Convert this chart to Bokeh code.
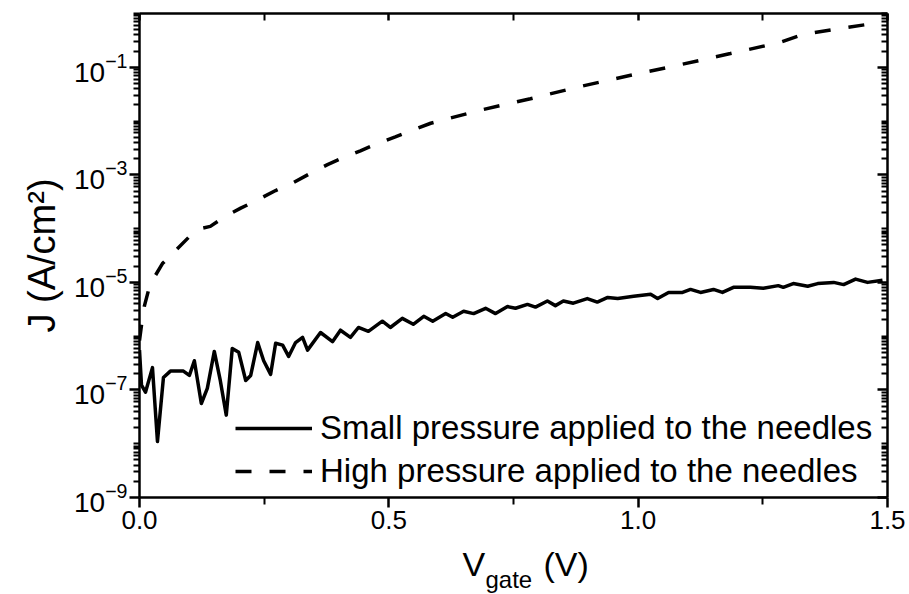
from bokeh.plotting import figure
from bokeh.layouts import column
from bokeh.models import (Range1d, FixedTicker, LogTickFormatter, LogAxis, LinearAxis,
                          PrintfTickFormatter, CustomJSTickFormatter, Legend, LegendItem)
from bokeh.core.properties import value
from bokeh.embed import file_html
from bokeh.resources import INLINE

# ---- data ----
v_small = [0.000, 0.004, 0.012, 0.026, 0.036, 0.048, 0.062, 0.088, 0.100, 0.110,
           0.124, 0.136, 0.150, 0.162, 0.174, 0.186, 0.199, 0.213, 0.223, 0.237,
           0.249, 0.263, 0.273, 0.287, 0.299, 0.313, 0.327, 0.337, 0.363, 0.387,
           0.403, 0.423, 0.439, 0.459, 0.487, 0.503, 0.527, 0.549, 0.570, 0.588,
           0.614, 0.628, 0.650, 0.670, 0.694, 0.714, 0.738, 0.754, 0.778, 0.794,
           0.818, 0.834, 0.850, 0.870, 0.898, 0.918, 0.939, 0.959, 0.991, 1.025,
           1.039, 1.061, 1.089, 1.105, 1.125, 1.151, 1.169, 1.191, 1.225, 1.251,
           1.281, 1.291, 1.311, 1.340, 1.360, 1.392, 1.412, 1.436, 1.460, 1.490]
j_small = [5.5e-7, 1.23e-7, 9.1e-8, 2.6e-7, 1.1e-8, 1.7e-7, 2.24e-7, 2.24e-7, 1.86e-7, 3.5e-7,
           5.6e-8, 1.07e-7, 5.2e-7, 1.5e-7, 3.4e-8, 5.9e-7, 5.0e-7, 1.5e-7, 1.86e-7, 7.6e-7,
           3.5e-7, 1.95e-7, 7.4e-7, 6.8e-7, 4.2e-7, 7.6e-7, 9.5e-7, 5.5e-7, 1.17e-6, 7.9e-7,
           1.29e-6, 9.5e-7, 1.45e-6, 1.23e-6, 1.9e-6, 1.45e-6, 2.14e-6, 1.66e-6, 2.34e-6, 1.9e-6,
           2.63e-6, 2.24e-6, 2.9e-6, 2.63e-6, 3.3e-6, 2.63e-6, 3.55e-6, 3.3e-6, 3.9e-6, 3.47e-6,
           4.5e-6, 3.7e-6, 4.5e-6, 4.1e-6, 5.0e-6, 4.3e-6, 5.25e-6, 5.0e-6, 5.5e-6, 6.0e-6,
           5.0e-6, 6.5e-6, 6.5e-6, 7.4e-6, 6.5e-6, 7.4e-6, 6.5e-6, 8.1e-6, 8.1e-6, 7.8e-6,
           8.7e-6, 8.1e-6, 9.5e-6, 8.5e-6, 9.5e-6, 1.0e-5, 9.1e-6, 1.15e-5, 1.0e-5, 1.1e-5]

v_high = [0.000, 0.004, 0.010, 0.018, 0.028, 0.046, 0.072, 0.102, 0.122, 0.142,
          0.172, 0.203, 0.239, 0.273, 0.309, 0.343, 0.377, 0.409, 0.443, 0.477,
          0.513, 0.547, 0.584, 0.684, 0.784, 0.884, 0.985, 1.085, 1.185, 1.285,
          1.331, 1.400, 1.486]
j_high = [8.3e-7, 1.6e-6, 3.7e-6, 7.1e-6, 1.17e-5, 2.24e-5, 3.9e-5, 7.4e-5, 1.0e-4, 1.1e-4,
          1.7e-4, 2.4e-4, 3.5e-4, 5.1e-4, 7.2e-4, 1.07e-3, 1.55e-3, 2.1e-3, 2.8e-3, 3.8e-3,
          5.1e-3, 6.8e-3, 9.1e-3, 1.6e-2, 2.6e-2, 4.4e-2, 7.1e-2, 0.112, 0.18, 0.29,
          0.41, 0.52, 0.68]

labels = ["Small pressure applied to the needles", "High pressure applied to the needles"]
x_title_parts = ["V", "gate", "(V)"]
y_title = "J (A/cm²)"
x_ticks = [0.0, 0.5, 1.0, 1.5]
x_minor = [0.25, 0.75, 1.25]
y_ticks = [1e-9, 1e-7, 1e-5, 1e-3, 1e-1]
y_minor = [m * 10.0 ** e for e in range(-9, 0) for m in range(2, 10)] + [1e-8, 1e-6, 1e-4, 1e-2, 1.0]

FONT = "Liberation Sans"
TITLE_H = 50

p = figure(width=909, height=594 - TITLE_H, output_backend="svg", toolbar_location=None,
           y_axis_type="log", x_range=Range1d(0, 1.5), y_range=Range1d(1e-9, 1.0),
           min_border_left=139, min_border_right=22, min_border_top=13,
           min_border_bottom=594 - TITLE_H - 497)
p.grid.visible = False
p.outline_line_color = None
p.background_fill_color = "white"
p.border_fill_color = "white"

# left axis
ya = p.yaxis[0]
ya.ticker = FixedTicker(ticks=y_ticks, minor_ticks=y_minor)
ya.formatter = LogTickFormatter()
ya.axis_label = y_title
ya.axis_label_text_font = FONT
ya.axis_label_text_font_size = "38px"
ya.axis_label_text_font_style = "normal"
ya.axis_label_text_color = "black"
ya.axis_label_standoff = 8
ya.major_label_text_font = FONT
ya.major_label_text_font_size = "28px"
ya.major_label_standoff = 2
ya.major_tick_out = 10
ya.major_tick_in = 0
ya.minor_tick_out = 6
ya.minor_tick_in = 0

# bottom axis
xa = p.xaxis[0]
xa.ticker = FixedTicker(ticks=x_ticks, minor_ticks=x_minor)
xa.formatter = PrintfTickFormatter(format="%.1f")
xa.major_label_text_font = FONT
xa.major_label_text_font_size = "26px"
xa.major_label_standoff = 3
xa.major_tick_out = 10
xa.major_tick_in = 0
xa.minor_tick_out = 7
xa.minor_tick_in = 0

for ax in (ya, xa):
    ax.axis_line_width = 2.5
    ax.major_tick_line_width = 2.5
    ax.minor_tick_line_width = 2
    ax.axis_line_color = "black"
    ax.major_label_text_color = "black"

# right and top axes (ticks inside, no labels)
blank = CustomJSTickFormatter(code="return ' '")
ra = LogAxis(ticker=FixedTicker(ticks=y_ticks, minor_ticks=y_minor), formatter=blank)
ta = LinearAxis(ticker=FixedTicker(ticks=x_ticks, minor_ticks=x_minor), formatter=blank)
for ax, mj, mn in ((ra, 10, 6), (ta, 7, 7)):
    ax.major_label_text_font_size = "1px"
    ax.major_label_text_alpha = 0
    ax.major_label_standoff = 0
    ax.major_tick_in = mj
    ax.major_tick_out = 0
    ax.minor_tick_in = mn
    ax.minor_tick_out = 0
    ax.axis_line_width = 2.5
    ax.major_tick_line_width = 2.5
    ax.minor_tick_line_width = 2
p.add_layout(ra, "right")
p.add_layout(ta, "above")

r1 = p.line(v_small, j_small, line_color="black", line_width=3.5, line_join="round")
r2 = p.line(v_high, j_high, line_color="black", line_width=3.5, line_dash="16 18")

legend = Legend(items=[LegendItem(label=labels[0], renderers=[r1]),
                       LegendItem(label=labels[1], renderers=[r2])],
                location=(96, 7))
legend.label_text_font = FONT
legend.label_text_font_size = "33px"
legend.label_text_color = "black"
legend.label_standoff = 8
legend.glyph_width = 77
legend.glyph_height = 20
legend.spacing = 5
legend.padding = 0
legend.margin = 0
legend.border_line_color = None
legend.background_fill_alpha = 0
p.add_layout(legend, "center")

# x-axis title with subscript, as real text in a strip below the plot
t = figure(width=909, height=TITLE_H, output_backend="svg", toolbar_location=None,
           x_range=p.x_range, y_range=Range1d(TITLE_H, 0),
           min_border_left=139, min_border_right=22, min_border_top=0, min_border_bottom=0,
           x_axis_location=None, y_axis_location=None)
t.grid.visible = False
t.outline_line_color = None
t.background_fill_color = "white"
t.border_fill_color = "white"
t.text(x=[0.6477], y=[19], text=[x_title_parts[0]], text_font=value(FONT),
       text_font_size=value("34px"), text_color="black", text_align="left",
       text_baseline="alphabetic")
t.text(x=[0.6938], y=[35], text=[x_title_parts[1]], text_font=value(FONT),
       text_font_size=value("24px"), text_color="black", text_align="left",
       text_baseline="alphabetic")
t.text(x=[0.8100], y=[19], text=[x_title_parts[2]], text_font=value(FONT),
       text_font_size=value("34px"), text_color="black", text_align="left",
       text_baseline="alphabetic")

layout = column(p, t, spacing=0)
open("out.html", "w").write(file_html(layout, INLINE))
